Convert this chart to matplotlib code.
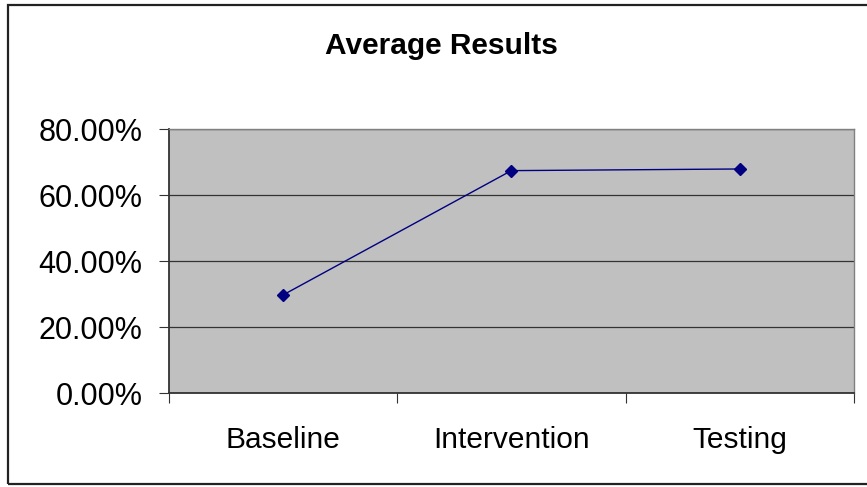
import matplotlib.pyplot as plt
from matplotlib.patches import Rectangle
from matplotlib.ticker import FuncFormatter

# Average score per study phase (percent)
phases = ['Baseline', 'Intervention', 'Testing']
avg_results = [29.7, 67.4, 67.9]
y_ticks = [0, 20, 40, 60, 80]

plt.rcParams['font.family'] = ['Liberation Sans', 'DejaVu Sans']

fig = plt.figure(figsize=(8.67, 4.87), dpi=100)
ax = fig.add_axes([0.1946, 0.193, 0.7904, 0.542])

# chart border like a spreadsheet chart object
fig.patches.append(Rectangle((8 / 867, 3 / 487), 1.0, 479 / 487, transform=fig.transFigure,
                             fill=False, edgecolor='#222222', linewidth=1.6, zorder=0))

ax.set_facecolor('#c0c0c0')
xs = [i + 0.5 for i in range(len(phases))]
ax.plot(xs, avg_results, color='#000080', linewidth=1.0, marker='D',
        markersize=6.5, markerfacecolor='#000080', markeredgecolor='#000080', zorder=3)

ax.set_xlim(0, len(phases))
ax.set_ylim(0, 80)
ax.set_yticks(y_ticks)
ax.yaxis.set_major_formatter(FuncFormatter(lambda v, p: f'{v:.2f}%'))
ax.grid(axis='y', color='#333333', linewidth=0.9)
ax.set_axisbelow(True)

# ticks between categories, labels centred under each category
ax.set_xticks(range(len(phases) + 1))
ax.set_xticklabels([])
ax.set_xticks(xs, minor=True)
ax.set_xticklabels(phases, minor=True)
ax.tick_params(axis='x', which='major', length=7, color='#333333')
ax.tick_params(axis='x', which='minor', length=0, pad=24, labelsize=21.5)
ax.tick_params(axis='y', length=7, color='#333333', labelsize=22, pad=12)

for side in ['left', 'bottom']:
    ax.spines[side].set_color('#333333')
    ax.spines[side].set_linewidth(1.3)
for side in ['top', 'right']:
    ax.spines[side].set_color('#808080')
    ax.spines[side].set_linewidth(1.0)

fig.text(0.509, 0.889, 'Average Results', ha='center', va='baseline',
         fontsize=21.5, fontweight='bold')

fig.savefig('out.png', dpi=100)
